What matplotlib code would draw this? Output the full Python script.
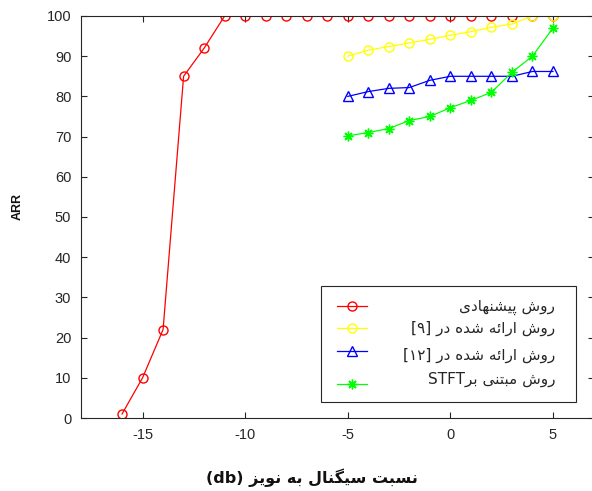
import matplotlib
matplotlib.use('Agg')
import matplotlib.pyplot as plt
from matplotlib.lines import Line2D
from matplotlib.patches import Rectangle

# Arabic presentation forms: isolated, final, initial, medial
FORMS = {
    'ا': ('\uFE8D', '\uFE8E', None, None),
    'د': ('\uFEA9', '\uFEAA', None, None),
    'ر': ('\uFEAD', '\uFEAE', None, None),
    'ز': ('\uFEAF', '\uFEB0', None, None),
    'و': ('\uFEED', '\uFEEE', None, None),
    'ئ': ('\uFE89', '\uFE8A', '\uFE8B', '\uFE8C'),
    'ب': ('\uFE8F', '\uFE90', '\uFE91', '\uFE92'),
    'پ': ('\uFB56', '\uFB57', '\uFB58', '\uFB59'),
    'ت': ('\uFE95', '\uFE96', '\uFE97', '\uFE98'),
    'س': ('\uFEB1', '\uFEB2', '\uFEB3', '\uFEB4'),
    'ش': ('\uFEB5', '\uFEB6', '\uFEB7', '\uFEB8'),
    'گ': ('\uFB92', '\uFB93', '\uFB94', '\uFB95'),
    'ل': ('\uFEDD', '\uFEDE', '\uFEDF', '\uFEE0'),
    'م': ('\uFEE1', '\uFEE2', '\uFEE3', '\uFEE4'),
    'ن': ('\uFEE5', '\uFEE6', '\uFEE7', '\uFEE8'),
    'ه': ('\uFEE9', '\uFEEA', '\uFEEB', '\uFEEC'),
    'ی': ('\uFBFC', '\uFBFD', '\uFBFE', '\uFBFF'),
}


def fa(text):
    """shape persian text and return it in visual (left to right) order"""
    out = []
    for i, ch in enumerate(text):
        if ch not in FORMS:
            out.append(ch)
            continue
        prev = text[i - 1] if i > 0 else None
        nxt = text[i + 1] if i + 1 < len(text) else None
        join_prev = prev in FORMS and FORMS[prev][2] is not None
        join_next = nxt in FORMS and FORMS[ch][2] is not None
        iso, fin, ini, med = FORMS[ch]
        if join_prev and join_next:
            out.append(med)
        elif join_prev:
            out.append(fin)
        elif join_next:
            out.append(ini)
        else:
            out.append(iso)
    return ''.join(out)[::-1]


# data
x_prop = list(range(-16, 6))
y_prop = [1, 10, 22, 85, 92] + [100] * 17
x_ref = list(range(-5, 6))
y_ref9 = [90, 91.5, 92.4, 93.3, 94.2, 95.2, 96.1, 97.2, 98, 100, 100]
y_ref12 = [80, 81.2, 82, 82.2, 84, 85, 85, 85, 85, 86.2, 86.2]
y_stft = [70.2, 71, 72, 74, 75, 77.2, 79, 81, 86, 90, 97]

legend_labels = [
    fa('روش پیشنهادی'),
    '[۹] ' + fa('روش ارائه شده در'),
    '[۱۲] ' + fa('روش ارائه شده در'),
    'STFT' + fa('روش مبتنی بر'),
]
xlabel = '(db) ' + fa('نسبت سیگنال به نویز')

plt.rcParams['font.family'] = ['Liberation Sans', 'DejaVu Sans']
plt.rcParams['axes.unicode_minus'] = False

fig = plt.figure(figsize=(5.92, 4.91), dpi=100)
ax = fig.add_axes([81 / 592, 73 / 491, 513 / 592, 402 / 491])

styles = [
    dict(color='#ff0000', marker='o', mfc='none', ms=6.5),
    dict(color='#ffff00', marker='o', mfc='none', ms=6.5),
    dict(color='#0000ff', marker='^', mfc='none', ms=7),
    dict(color='#00ff00', marker=(8, 2, 0), ms=7),
]

ax.plot(x_prop, y_prop, lw=0.9, **styles[0])
ax.plot(x_ref, y_ref9, lw=0.9, **styles[1])
ax.plot(x_ref, y_ref12, lw=0.9, **styles[2])
ax.plot(x_ref, y_stft, lw=0.9, **styles[3])

ax.set_xlim(-18, 7)
ax.set_ylim(0, 100)
ax.set_xticks([-15, -10, -5, 0, 5])
ax.set_yticks(range(0, 101, 10))
ax.tick_params(direction='in', top=True, right=True, length=4, width=0.8,
               colors='#262626', labelsize=10.5, pad=7)
for sp in ax.spines.values():
    sp.set_color('#262626')
    sp.set_linewidth(0.8)
ax.spines['right'].set_visible(False)

# legend box drawn by hand so the text can be right aligned
ax.add_patch(Rectangle((0.468, 0.040), 0.497, 0.288, transform=ax.transAxes,
                       fill=False, ec='#262626', lw=0.8, zorder=5))
ax.add_patch(Rectangle((0.468, 0.040), 0.497, 0.288, transform=ax.transAxes,
                       fc='white', ec='none', zorder=4))
rows = [0.279, 0.225, 0.166, 0.085]
text_rows = [0.275, 0.223, 0.157, 0.097]
for st, ly, ty, lab in zip(styles, rows, text_rows, legend_labels):
    ax.add_line(Line2D([0.499, 0.557], [ly, ly], transform=ax.transAxes,
                       lw=0.9, zorder=6, color=st['color']))
    ax.add_line(Line2D([0.528], [ly], transform=ax.transAxes, lw=0, zorder=6,
                       **st))
    ax.text(0.924, ty, lab, transform=ax.transAxes, ha='right', va='center',
            fontsize=11, color='#262626', zorder=6,
            family=['DejaVu Sans'])

fig.text(18 / 592, 1 - 207 / 491, 'ARR', rotation=90, ha='center',
         va='center', fontsize=9, fontweight='bold', color='#111111')
fig.text(312 / 592, 1 - 478 / 491, xlabel, ha='center', va='center',
         fontsize=11.5, fontweight='bold', color='#111111',
         family=['DejaVu Sans'])

fig.savefig('out.png', dpi=100)
